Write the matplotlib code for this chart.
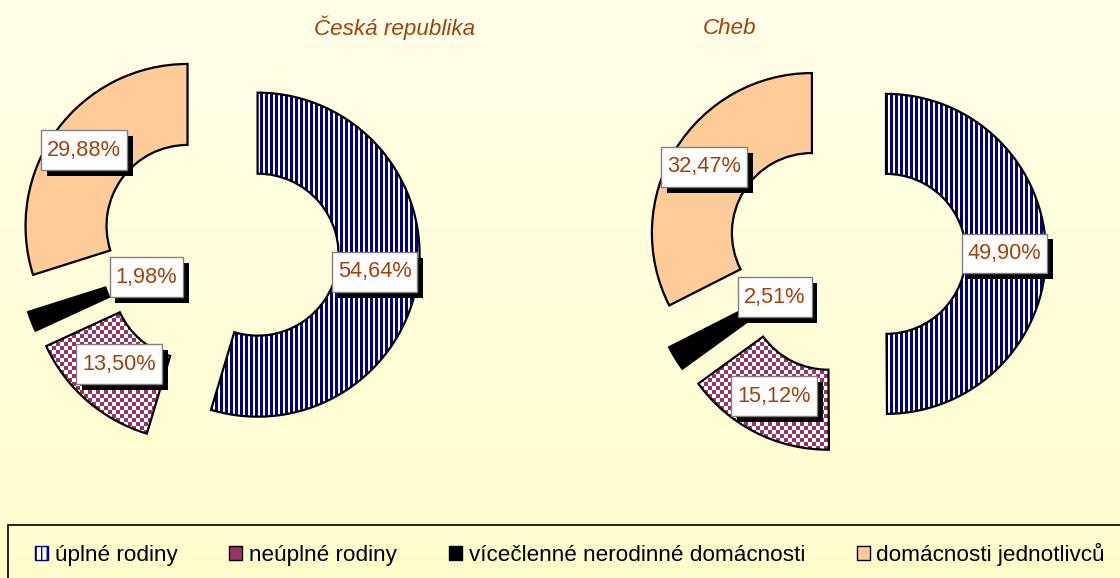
import numpy as np
import matplotlib
matplotlib.use("Agg")
import matplotlib.pyplot as plt
import matplotlib.patheffects as pe
from matplotlib.patches import Patch, Rectangle

plt.rcParams['font.family'] = ['Liberation Sans', 'DejaVu Sans']

# DATA
categories = ['úplné rodiny', 'neúplné rodiny',
              'vícečlenné nerodinné domácnosti', 'domácnosti jednotlivců']
titles = ['Česká republika', 'Cheb']
cz_values = [54.64, 13.50, 1.98, 29.88]
cheb_values = [49.90, 15.12, 2.51, 32.47]

# styles
blue = '#000080'
pink = '#993366'
peach = '#FFCC99'
txt_col = '#A3410C'
W, H = 1120, 578

fig = plt.figure(figsize=(W / 100, H / 100), dpi=100)
ax = fig.add_axes([0, 0, 1, 1])

# background gradient
grad = np.linspace(0, 1, 200)[:, None]
top = np.array([1.0, 1.0, 0.91])
bot = np.array([1.0, 0.99, 0.80])
bg = top[None, None, :] * (1 - grad[..., None]) + bot[None, None, :] * grad[..., None]
bg = np.repeat(bg, 2, axis=1)
ax.imshow(bg, extent=(0, W, 0, H), origin='upper', aspect='auto', zorder=0)

# fill textures, one array cell per output pixel
yy, xx = np.indices((H, W))
stripes = np.ones((H, W, 3))
stripes[(xx % 5) < 3] = matplotlib.colors.to_rgb(blue)
checker = np.ones((H, W, 3))
checker[((xx // 4) + (yy // 4)) % 2 == 0] = matplotlib.colors.to_rgb(pink)


def donut(values, center, radius, dists, explode):
    # explode is in data units (pixels here)
    wedges, _ = ax.pie(values, startangle=90, counterclock=False,
                       center=center, radius=radius,
                       explode=[explode] * len(values),
                       colors=['none', 'none', 'black', peach],
                       wedgeprops=dict(width=0.5 * radius, edgecolor='black',
                                       linewidth=1.6, zorder=3))
    for w, tex in zip(wedges[:2], [stripes, checker]):
        im = ax.imshow(tex, extent=(0, W, 0, H), origin='lower',
                       interpolation='nearest', aspect='auto', zorder=2)
        im.set_clip_path(w)
    for w, v, d in zip(wedges, values, dists):
        mid = np.deg2rad((w.theta1 + w.theta2) / 2)
        x = w.center[0] + d * w.r * np.cos(mid)
        y = w.center[1] + d * w.r * np.sin(mid)
        t = ax.text(x, y, '{:.2f}%'.format(v).replace('.', ','),
                    ha='center', va='center', fontsize=15.7, color=txt_col,
                    zorder=5,
                    bbox=dict(boxstyle='square,pad=0.27', fc='white',
                              ec='#808080', lw=1, mutation_aspect=1.6))
        t.get_bbox_patch().set_path_effects(
            [pe.SimplePatchShadow(offset=(4.2, -4.2), shadow_rgbFace='black', alpha=1.0),
             pe.Normal()])
    return wedges


donut(cz_values, (219, H - 249), 162, [0.73, 0.70, 0.24, 0.79], 39)
donut(cheb_values, (846, H - 254), 160, [0.74, 0.745, 0.27, 0.79], 40)

ax.set_xlim(0, W)
ax.set_ylim(0, H)
ax.set_aspect('auto')
ax.axis('off')

fig.text(395 / W, 1 - 28 / H, titles[0], ha='center', va='center',
         fontsize=16.1, style='italic', color=txt_col)
fig.text(730 / W, 1 - 28 / H, titles[1], ha='center', va='center',
         fontsize=16.1, style='italic', color=txt_col)

# legend
fig.patches.append(Rectangle((8 / W, -0.05), 1.2, 0.05 + 53 / H,
                             transform=fig.transFigure, fill=False,
                             ec='black', lw=1.2))
handles = [Patch(facecolor='white', edgecolor=blue, hatch='|||'),
           Patch(facecolor=pink, edgecolor='black'),
           Patch(facecolor='black', edgecolor='black'),
           Patch(facecolor=peach, edgecolor='black')]
fig.legend(handles, categories, ncol=4, frameon=False, fontsize=16.2,
           loc='center left', bbox_to_anchor=(35 / W, 1 - 554 / H),
           handlelength=0.58, handleheight=0.58, handletextpad=0.3,
           columnspacing=2.3, borderpad=0, borderaxespad=0)

fig.savefig('out.png', dpi=100)
